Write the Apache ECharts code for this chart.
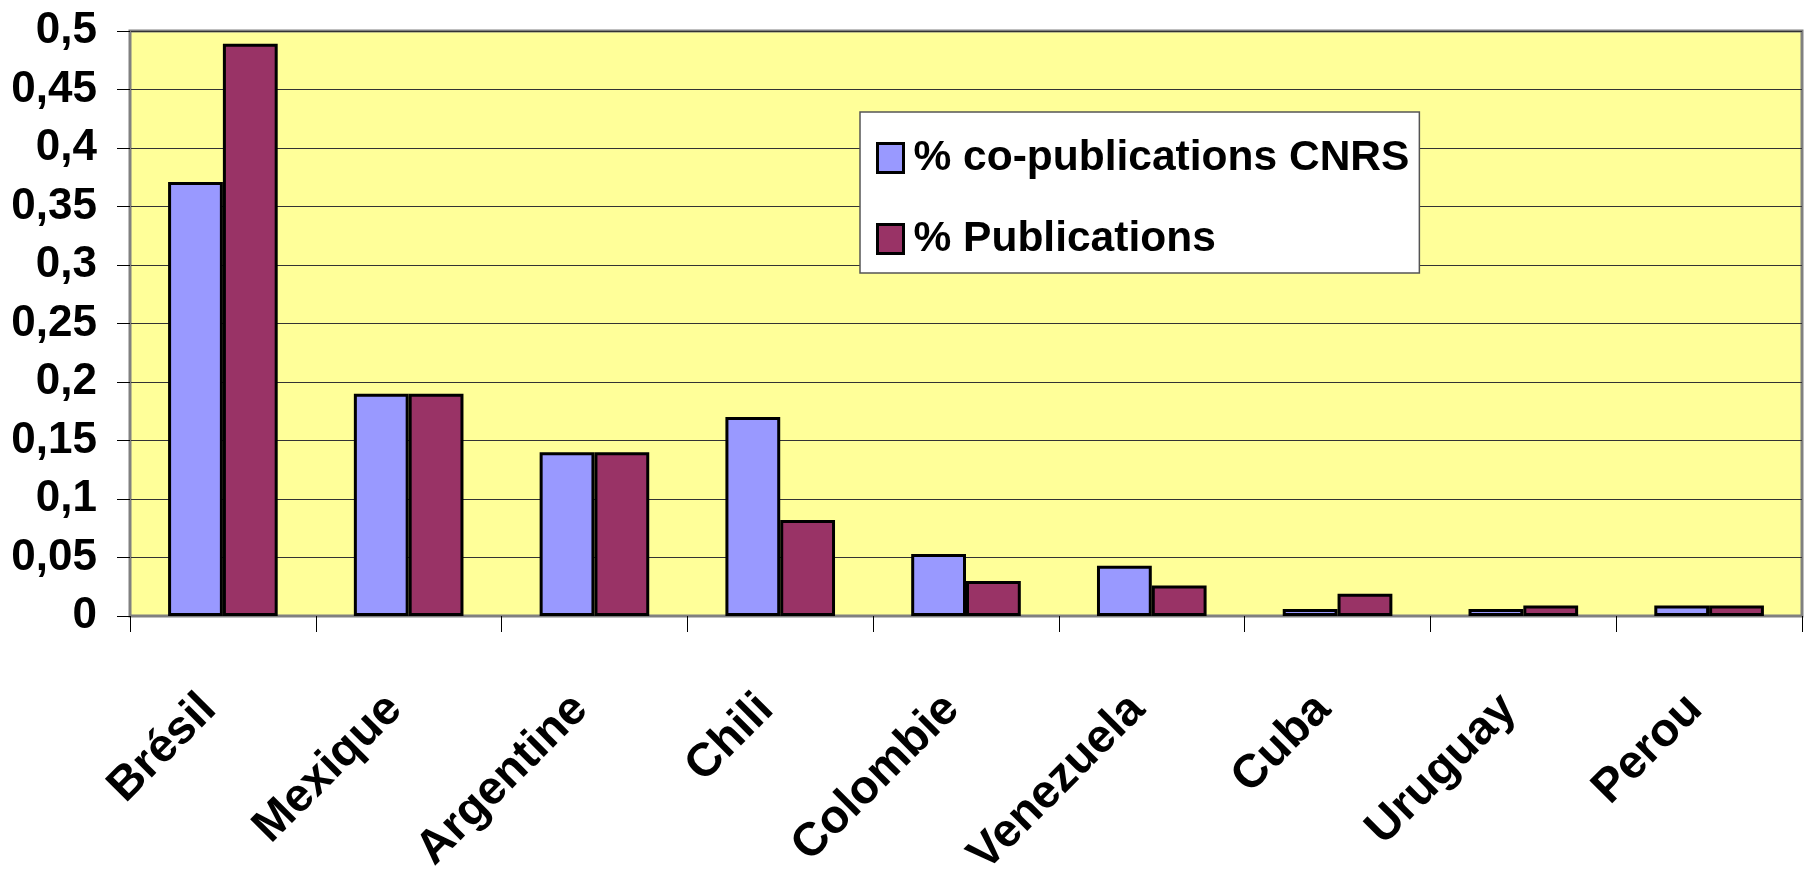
<!DOCTYPE html>
<html>
<head>
<meta charset="utf-8">
<script src="https://cdn.jsdelivr.net/npm/echarts@6/dist/echarts.min.js"></script>
<style>
html,body{margin:0;padding:0;background:#fff;}
#chart{width:1804px;height:877px;}
</style>
</head>
<body>
<div id="chart"></div>
<script>
const categories = ['Brésil','Mexique','Argentine','Chili','Colombie','Venezuela','Cuba','Uruguay','Perou'];
const coPubCNRS = [0.371, 0.19, 0.14, 0.17, 0.053, 0.043, 0.006, 0.006, 0.009];
const publications = [0.489, 0.19, 0.14, 0.082, 0.03, 0.026, 0.019, 0.009, 0.009];
const seriesNames = ['% co-publications CNRS', '% Publications'];
const yTicks = {min: 0, max: 0.5, interval: 0.05};

const chart = echarts.init(document.getElementById('chart'), null, {renderer: 'canvas'});
const font = "'Liberation Sans', Arial, sans-serif";
chart.setOption({
  animation: false,
  backgroundColor: '#ffffff',
  grid: {
    left: 130, top: 31, right: 2, bottom: 261,
    show: true, backgroundColor: '#FFFF99', borderColor: '#808080', borderWidth: 3,
    containLabel: false, outerBoundsMode: 'none'
  },
  legend: {
    orient: 'vertical',
    left: 860, top: 112,
    padding: [18, 10, 6, 16],
    itemWidth: 26, itemHeight: 29, itemGap: 25,
    backgroundColor: '#ffffff', borderColor: '#555555', borderWidth: 1.5, borderRadius: 0,
    icon: 'rect',
    itemStyle: {borderColor: '#000', borderWidth: 3},
    textStyle: {fontFamily: font, fontWeight: 'bold', fontSize: 42.5, color: '#000', lineHeight: 56, padding: [0, 0, 0, 5]},
    data: seriesNames
  },
  xAxis: {
    type: 'category',
    data: categories,
    boundaryGap: true,
    axisLine: {show: true, lineStyle: {color: '#808080', width: 2}},
    axisTick: {show: true, length: 16, alignWithLabel: false, lineStyle: {color: '#000', width: 1}},
    axisLabel: {
      interval: 0, rotate: 45, margin: 72, padding: [0, 20, 0, 0],
      fontFamily: font, fontWeight: 'bold', fontSize: 47, color: '#000'
    },
    splitLine: {show: false}
  },
  yAxis: {
    type: 'value',
    min: yTicks.min, max: yTicks.max, interval: yTicks.interval,
    axisLine: {show: true, lineStyle: {color: '#808080', width: 2}},
    axisTick: {show: true, length: 13, lineStyle: {color: '#000', width: 1}},
    axisLabel: {
      margin: 33,
      fontFamily: font, fontWeight: 'bold', fontSize: 44, color: '#000',
      formatter: v => String(+v.toFixed(2)).replace('.', ',')
    },
    splitLine: {show: true, lineStyle: {color: '#333', width: 1}}
  },
  series: [
    {
      name: seriesNames[0], type: 'bar', data: coPubCNRS,
      barGap: '0%', barCategoryGap: '41%',
      itemStyle: {color: '#9999FF', borderColor: '#000', borderWidth: 3}
    },
    {
      name: seriesNames[1], type: 'bar', data: publications,
      barGap: '0%', barCategoryGap: '41%',
      itemStyle: {color: '#993366', borderColor: '#000', borderWidth: 3}
    }
  ]
});
</script>
</body>
</html>
